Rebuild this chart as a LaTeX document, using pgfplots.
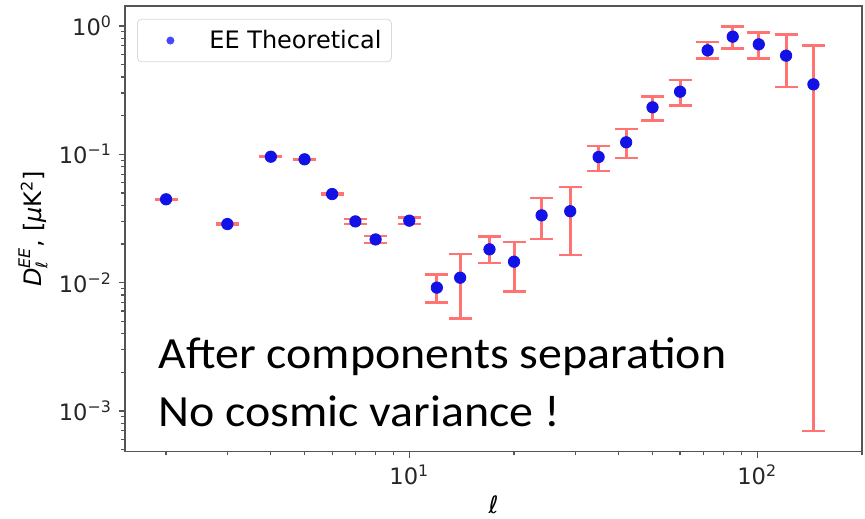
\documentclass[border=0pt]{standalone}
\usepackage{pgfplots}
\usepackage{pgfplotstable}
\pgfplotsset{compat=1.18}
\usepackage{amsmath}
\usepackage{fontspec}
\setmainfont{DejaVu Sans}
\newfontfamily\carlito{Carlito}
\definecolor{errred}{RGB}{255,115,115}
\definecolor{ptblue}{RGB}{18,18,230}
\definecolor{legblue}{RGB}{72,72,255}
\definecolor{framegray}{RGB}{85,85,85}

\pgfplotstableread{
x y ep em
2 0.0446 0.0003 0.0003
3 0.0286 0.0002 0.0002
4 0.0958 0.0007 0.0007
5 0.0914 0.0007 0.0007
6 0.0490 0.0004 0.0004
7 0.0300 0.0014 0.0014
8 0.0217 0.0013 0.0013
10 0.0304 0.0018 0.0018
12 0.00914 0.00239 0.00212
14 0.01092 0.00588 0.00565
17 0.01817 0.00463 0.00395
20 0.01456 0.00624 0.00601
24 0.03345 0.01215 0.01155
29 0.0360 0.0199 0.0196
35 0.0953 0.0214 0.0212
42 0.124 0.0335 0.0309
50 0.2324 0.0506 0.0484
60 0.3077 0.0738 0.0684
72 0.6462 0.1038 0.0862
85 0.826 0.162 0.156
101 0.7196 0.173 0.160
121 0.5874 0.269 0.251
145 0.351 0.3516 0.3503
}\datatable

\begin{document}
\begin{tikzpicture}
\useasboundingbox (-62.5pt,-33.15pt) rectangle (370pt,225.85pt);
\begin{axis}[
  at={(0pt,0pt)}, anchor=south west,
  scale only axis, width=368.5pt, height=222.85pt,
  xmode=log, ymode=log,
  xmin=1.524, xmax=200, ymin=4.81e-4, ymax=1.432,
  axis line style={framegray, line width=0.7pt},
  xtick pos=bottom, ytick pos=left,
  tick align=outside,
  major tick length=3pt, minor tick length=1.8pt,
  tick style={framegray, line width=0.6pt},
  xtick={10,100},
  xticklabels={10\textsuperscript{1},10\textsuperscript{2}},
  minor xtick={2,3,4,5,6,7,8,9,20,30,40,50,60,70,80,90,200},
  ytick={0.001,0.01,0.1,1},
  yticklabels={10\textsuperscript{−3},10\textsuperscript{−2},10\textsuperscript{−1},10\textsuperscript{0}},
  minor ytick={5e-4,6e-4,7e-4,8e-4,9e-4,0.002,0.003,0.004,0.005,0.006,0.007,0.008,0.009,0.02,0.03,0.04,0.05,0.06,0.07,0.08,0.09,0.2,0.3,0.4,0.5,0.6,0.7,0.8,0.9},
  ticklabel style={font=\fontsize{11.3}{13}\selectfont, text=black!85},
  xlabel={\textit{ℓ}},
  xlabel style={at={(axis description cs:0.5,0)}, anchor=center, yshift=-26.5pt, font=\fontsize{12}{14}\selectfont},
  ylabel={$\text{\itshape D}_{\text{\itshape ℓ}}^{\text{\itshape EE}}$, [\textit{μ}K\textsuperscript{2}]},
  ylabel style={at={(axis description cs:0,0.5)}, anchor=center, yshift=46pt, font=\fontsize{12}{14}\selectfont},
  legend style={at={(0.0163,0.971)}, anchor=north west, draw=black!15, rounded corners=2pt,
    inner xsep=3pt, inner ysep=3.3pt, font=\fontsize{12}{14}\selectfont},
]
\addplot[forget plot, only marks, mark=*, mark size=2.85pt, color=ptblue,
  error bars/.cd, y dir=both, y explicit,
  error bar style={errred, line width=1.5pt},
  error mark options={errred, rotate=90, mark size=5.75pt, line width=1.2pt}]
  table[x=x, y=y, y error plus=ep, y error minus=em]{\datatable};
\addlegendimage{legend image code/.code={\path[draw=none,fill=none] (0pt,0pt) -- (31pt,0pt); \fill[legblue,draw=none] (13.5pt,0pt) circle (2pt);}}
\addlegendentry{EE Theoretical}
\node[anchor=base west, inner sep=0pt, font=\carlito\fontsize{22.3}{26}\selectfont] at (rel axis cs:0.0448,0.1871) {\scalebox{1.075}[1]{After components separation}};
\node[anchor=base west, inner sep=0pt, font=\carlito\fontsize{22.3}{26}\selectfont] at (rel axis cs:0.0448,0.0561) {\scalebox{1.075}[1]{No cosmic variance !}};
\end{axis}
\end{tikzpicture}
\end{document}
